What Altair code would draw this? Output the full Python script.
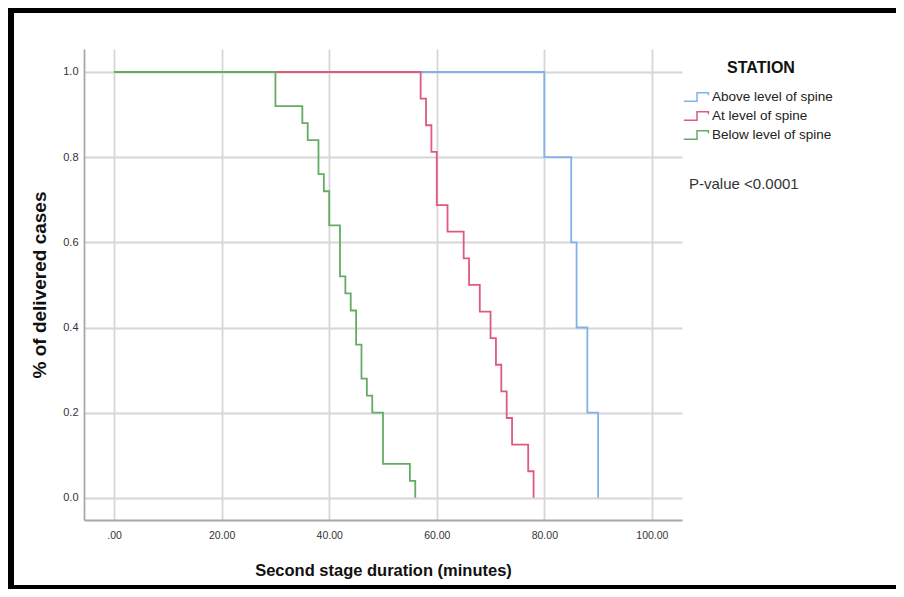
import altair as alt
import pandas as pd

# ---- data ----
groups = ["Above level of spine", "At level of spine", "Below level of spine"]
colors = ["#82b2ea", "#e05a7c", "#64ac64"]

above_t = [0, 80, 85, 86, 88, 90]
above_s = [1.0, 0.8, 0.6, 0.4, 0.2, 0.0]

at_t = [0, 57, 58, 59, 60, 62, 65, 66, 68, 70, 71, 72, 73, 74, 77, 78]
at_s = [1.0, 0.9375, 0.875, 0.8125, 0.6875, 0.625, 0.5625, 0.5, 0.4375,
        0.375, 0.3125, 0.25, 0.1875, 0.125, 0.0625, 0.0]

below_t = [0, 30, 35, 36, 38, 39, 40, 42, 43, 44, 45, 46, 47, 48, 50, 55, 56]
below_s = [1.0, 0.92, 0.88, 0.84, 0.76, 0.72, 0.64, 0.52, 0.48, 0.44, 0.36,
           0.28, 0.24, 0.20, 0.08, 0.04, 0.0]

x_ticks = [0, 20, 40, 60, 80, 100]
y_ticks = [0.0, 0.2, 0.4, 0.6, 0.8, 1.0]
x_title = "Second stage duration (minutes)"
y_title = "% of delivered cases"
legend_title = "STATION"
pvalue_text = "P-value <0.0001"

rows = []
for g, ts, ss in zip(groups, [above_t, at_t, below_t], [above_s, at_s, below_s]):
    for t, s in zip(ts, ss):
        rows.append({"STATION": g, "time": t, "surv": s})
df = pd.DataFrame(rows)

FONT = "Liberation Sans"

lines = alt.Chart(df).mark_line(interpolate="step-after", strokeWidth=1.8).encode(
    x=alt.X("time:Q",
            scale=alt.Scale(domain=[-5.6, 105.6], nice=False, zero=False),
            axis=alt.Axis(values=x_ticks, title=x_title,
                          labelExpr="datum.value == 0 ? '.00' : format(datum.value, '.2f')",
                          labelFontSize=10.5, labelColor="#333", labelPadding=10,
                          ticks=False, titleFontSize=16.5, titleFontWeight="bold",
                          titleColor="#111", titlePadding=22,
                          grid=True, gridColor="#d6d6d6", gridWidth=1.8,
                          domainColor="#a8a8a8", domainWidth=1.8)),
    y=alt.Y("surv:Q",
            scale=alt.Scale(domain=[-0.052, 1.054], nice=False, zero=False),
            axis=alt.Axis(values=y_ticks, title=y_title, format=".1f",
                          labelFontSize=11, labelColor="#333", labelPadding=6,
                          ticks=False, titleFontSize=19, titleFontWeight="bold",
                          titleColor="#111", titlePadding=13,
                          grid=True, gridColor="#d6d6d6", gridWidth=1.8,
                          domainColor="#a8a8a8", domainWidth=1.8)),
    color=alt.Color("STATION:N",
                    scale=alt.Scale(domain=groups, range=colors),
                    legend=alt.Legend(orient="none", legendX=606, legendY=11,
                                      title=legend_title, titleFontSize=16,
                                      titleFontWeight="bold", titleColor="#111",
                                      titleAnchor="middle", titlePadding=14,
                                      labelFontSize=13.5, labelColor="#222",
                                      labelOffset=8, rowPadding=3, padding=0,
                                      symbolType="M-2.2,0.7H0V-0.7H1.9V-0.3",
                                      symbolSize=144, symbolStrokeWidth=1.5,
                                      symbolFillColor="transparent")),
)

one = pd.DataFrame({"label": [pvalue_text]})
ptext = alt.Chart(one).mark_text(align="left", baseline="middle", fontSize=15,
                                 color="#333", font=FONT).encode(
    x=alt.value(605), y=alt.value(135), text="label:N")

frame_df = pd.DataFrame({"k": [0]})
frame_top = alt.Chart(frame_df).mark_rect(color="black").encode(
    x=alt.value(-76), x2=alt.value(812), y=alt.value(-41), y2=alt.value(-36))
frame_left = alt.Chart(frame_df).mark_rect(color="black").encode(
    x=alt.value(-76), x2=alt.value(-70), y=alt.value(-41), y2=alt.value(540))
frame_bottom = alt.Chart(frame_df).mark_rect(color="black").encode(
    x=alt.value(-76), x2=alt.value(812), y=alt.value(536), y2=alt.value(540))

chart = alt.layer(lines, ptext, frame_top, frame_left, frame_bottom).properties(
    width=598, height=471,
    autosize=alt.AutoSizeParams(type="none"),
    padding={"left": 76, "top": 41, "right": 214, "bottom": 69},
).configure(font=FONT).configure_view(stroke=None)

chart.save("out.html", embed_options={"renderer": "svg", "actions": False})
